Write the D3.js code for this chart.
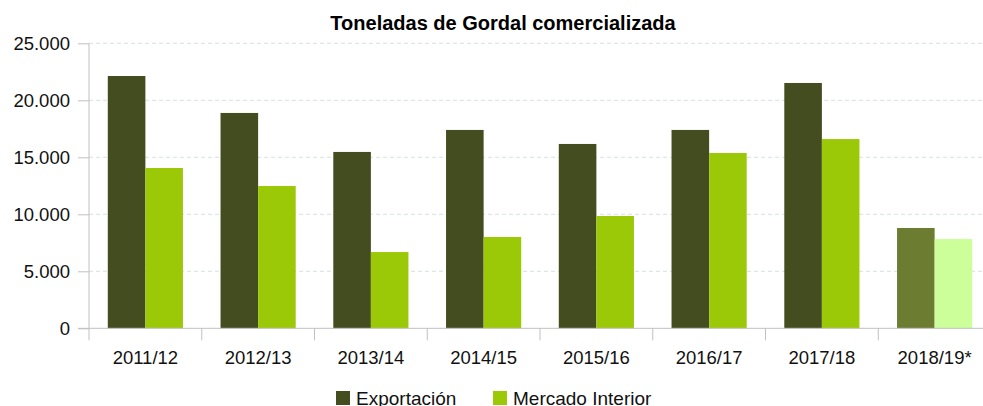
<!DOCTYPE html>
<html>
<head>
<meta charset="utf-8">
<script src="https://cdn.jsdelivr.net/npm/d3@7"></script>
<style>
  body { margin: 0; background: #fff; }
  svg { display: block; font-family: "Liberation Sans", Arial, sans-serif; }
</style>
</head>
<body>
<script>
// data (toneladas)
var categories = ["2011/12", "2012/13", "2013/14", "2014/15", "2015/16", "2016/17", "2017/18", "2018/19*"];
var exportacion = [22130, 18890, 15470, 17400, 16170, 17400, 21520, 8800];
var mercadoInterior = [14060, 12480, 6690, 8010, 9850, 15380, 16600, 7830];
var seriesNames = ["Exportación", "Mercado Interior"];
var yTicks = [0, 5000, 10000, 15000, 20000, 25000];

var w = 983, h = 406;
var plotLeft = 89, plotRight = 991, plotTop = 43.3, plotBottom = 328.3;

var colDark = "#444d1f", colLight = "#9bc908";
var colDarkProv = "#6c7c31", colLightProv = "#ccff99";

var locale = d3.formatLocale({decimal: ",", thousands: ".", grouping: [3], currency: ["", "€"]});
var fmt = locale.format(",d");

var svg = d3.select("body").append("svg")
    .attr("width", w)
    .attr("height", h);

var x = d3.scaleBand().domain(categories).range([plotLeft, plotRight]);
var xSub = d3.scaleBand().domain(seriesNames)
    .range([x.bandwidth() / 6, x.bandwidth() * 5 / 6]);
var y = d3.scaleLinear().domain([0, 25000]).range([plotBottom, plotTop]);

// gridlines
svg.append("g").selectAll("line")
    .data(yTicks.filter(function(d) { return d > 0; }))
    .enter().append("line")
    .attr("x1", plotLeft).attr("x2", w)
    .attr("y1", function(d) { return y(d); })
    .attr("y2", function(d) { return y(d); })
    .attr("stroke", "#d8e0e0")
    .attr("stroke-width", 1)
    .attr("stroke-dasharray", "4,3");

// bars
var rows = categories.map(function(c, i) {
  return {cat: c, vals: [exportacion[i], mercadoInterior[i]]};
});

function barColor(cat, j) {
  var prov = cat.indexOf("*") >= 0;   // provisional season drawn lighter
  if (j == 0) return prov ? colDarkProv : colDark;
  return prov ? colLightProv : colLight;
}

var groups = svg.append("g").selectAll("g")
    .data(rows)
    .enter().append("g")
    .attr("transform", function(d) { return "translate(" + x(d.cat) + ",0)"; });

groups.selectAll("rect")
    .data(function(d) {
      return d.vals.map(function(v, j) { return {cat: d.cat, name: seriesNames[j], v: v, j: j}; });
    })
    .enter().append("rect")
    .attr("x", function(d) { return xSub(d.name); })
    .attr("width", xSub.bandwidth())
    .attr("y", function(d) { return y(d.v); })
    .attr("height", function(d) { return plotBottom - y(d.v); })
    .attr("fill", function(d) { return barColor(d.cat, d.j); });

// y axis
var yAxis = d3.axisLeft(y).tickValues(yTicks).tickSize(11).tickPadding(8).tickFormat(fmt);
var gy = svg.append("g").attr("transform", "translate(" + plotLeft + ",0)").call(yAxis);
gy.select(".domain").attr("stroke", "#c0c0c0").attr("d", "M0," + plotTop + "V" + (plotBottom + 12));
gy.selectAll(".tick line").attr("stroke", "#c0c0c0");
gy.selectAll(".tick text")
    .attr("font-size", "18.5px")
    .attr("font-family", "Liberation Sans, Arial, sans-serif")
    .attr("fill", "#111");

// x axis
var gx = svg.append("g").attr("transform", "translate(0," + plotBottom + ")");
gx.append("line")
    .attr("x1", plotLeft - 11).attr("x2", w)
    .attr("y1", 0).attr("y2", 0)
    .attr("stroke", "#c0c0c0");
gx.selectAll(".xtick")
    .data(categories)
    .enter().append("line")
    .attr("class", "xtick")
    .attr("x1", function(d) { return x(d) + x.bandwidth(); })
    .attr("x2", function(d) { return x(d) + x.bandwidth(); })
    .attr("y1", 0).attr("y2", 12)
    .attr("stroke", "#c0c0c0");
gx.selectAll(".xlab")
    .data(categories)
    .enter().append("text")
    .attr("class", "xlab")
    .attr("x", function(d) { return x(d) + x.bandwidth() / 2; })
    .attr("y", 36)
    .attr("text-anchor", "middle")
    .attr("font-size", "18.5px")
    .attr("fill", "#111")
    .text(function(d) { return d; });

// title
svg.append("text")
    .attr("x", 503)
    .attr("y", 30)
    .attr("text-anchor", "middle")
    .attr("font-size", "20px")
    .attr("font-weight", "bold")
    .attr("fill", "#000")
    .text("Toneladas de Gordal comercializada");

// legend
var legendX = [336, 493];
var lg = svg.append("g").selectAll("g")
    .data(seriesNames)
    .enter().append("g")
    .attr("transform", function(d, i) { return "translate(" + legendX[i] + ",391)"; });
lg.append("rect")
    .attr("width", 14).attr("height", 14)
    .attr("fill", function(d, i) { return i == 0 ? colDark : colLight; });
lg.append("text")
    .attr("x", 20)
    .attr("y", 13.5)
    .attr("font-size", "19px")
    .attr("fill", "#111")
    .text(function(d) { return d; });
</script>
</body>
</html>
